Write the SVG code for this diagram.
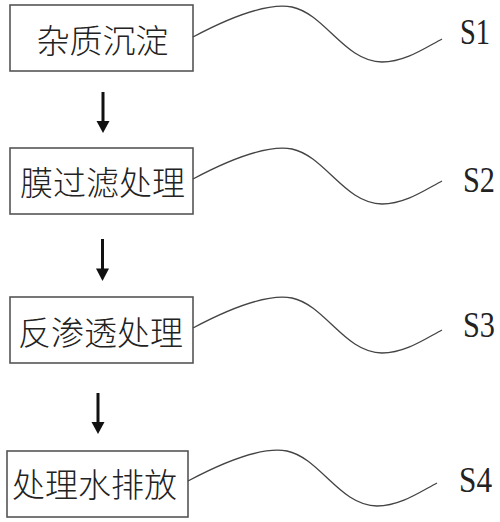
<svg xmlns="http://www.w3.org/2000/svg" xmlns:xlink="http://www.w3.org/1999/xlink" width="500" height="522" viewBox="0 0 500 522">
<style>
.box{fill:#fff;stroke:#555;stroke-width:1.6}
.lbl{font-family:"Noto Sans CJK SC","Noto Sans CJK JP",sans-serif;font-size:33px;font-weight:300;fill:#222;text-anchor:middle;dominant-baseline:central}
.s{font-family:"Liberation Serif",serif;font-size:35px;fill:#222}
.wave{fill:none;stroke:#444;stroke-width:1.3}
.arr{stroke:#111;stroke-width:3}
.head{fill:#111}
</style>
<defs>
<path id="wv" d="M193,37 C225,20 265,2 292,7 C325,14 345,62 382,62 C405,62 425,48 442,39"/>
</defs>
<rect width="500" height="522" fill="#fff"/>
<g id="node1"><rect class="box" x="10" y="5" width="183" height="66"/><text class="lbl" x="102.5" y="39">杂质沉淀</text></g>
<g id="node2"><rect class="box" x="10" y="148" width="183" height="66"/><text class="lbl" x="102.5" y="181">膜过滤处理</text></g>
<g id="node3"><rect class="box" x="10" y="297" width="183" height="66"/><text class="lbl" x="100.5" y="331">反渗透处理</text></g>
<g id="node4"><rect class="box" x="7" y="451" width="181" height="66"/><text class="lbl" x="94.5" y="483">处理水排放</text></g>
<g id="connectors">
<line class="arr" x1="103" y1="92" x2="103" y2="123"/><polygon class="head" points="96.5,121 109.5,121 103,133"/>
<line class="arr" x1="102.5" y1="239" x2="102.5" y2="270"/><polygon class="head" points="96,268.5 109,268.5 102.5,281"/>
<line class="arr" x1="98" y1="393" x2="98" y2="424"/><polygon class="head" points="91.5,422 104.5,422 98,434"/>
<use class="wave" xlink:href="#wv" href="#wv"/>
<use class="wave" xlink:href="#wv" href="#wv" transform="translate(0,142)"/>
<use class="wave" xlink:href="#wv" href="#wv" transform="translate(0,291)"/>
<use class="wave" xlink:href="#wv" href="#wv" transform="translate(-5,444)"/>
</g>
<g id="labels">
<text class="s" x="460" y="44" textLength="30" lengthAdjust="spacingAndGlyphs">S1</text>
<text class="s" x="463" y="192" textLength="32" lengthAdjust="spacingAndGlyphs">S2</text>
<text class="s" x="463" y="337" textLength="32" lengthAdjust="spacingAndGlyphs">S3</text>
<text class="s" x="459" y="492" textLength="33" lengthAdjust="spacingAndGlyphs">S4</text>
</g>
</svg>
